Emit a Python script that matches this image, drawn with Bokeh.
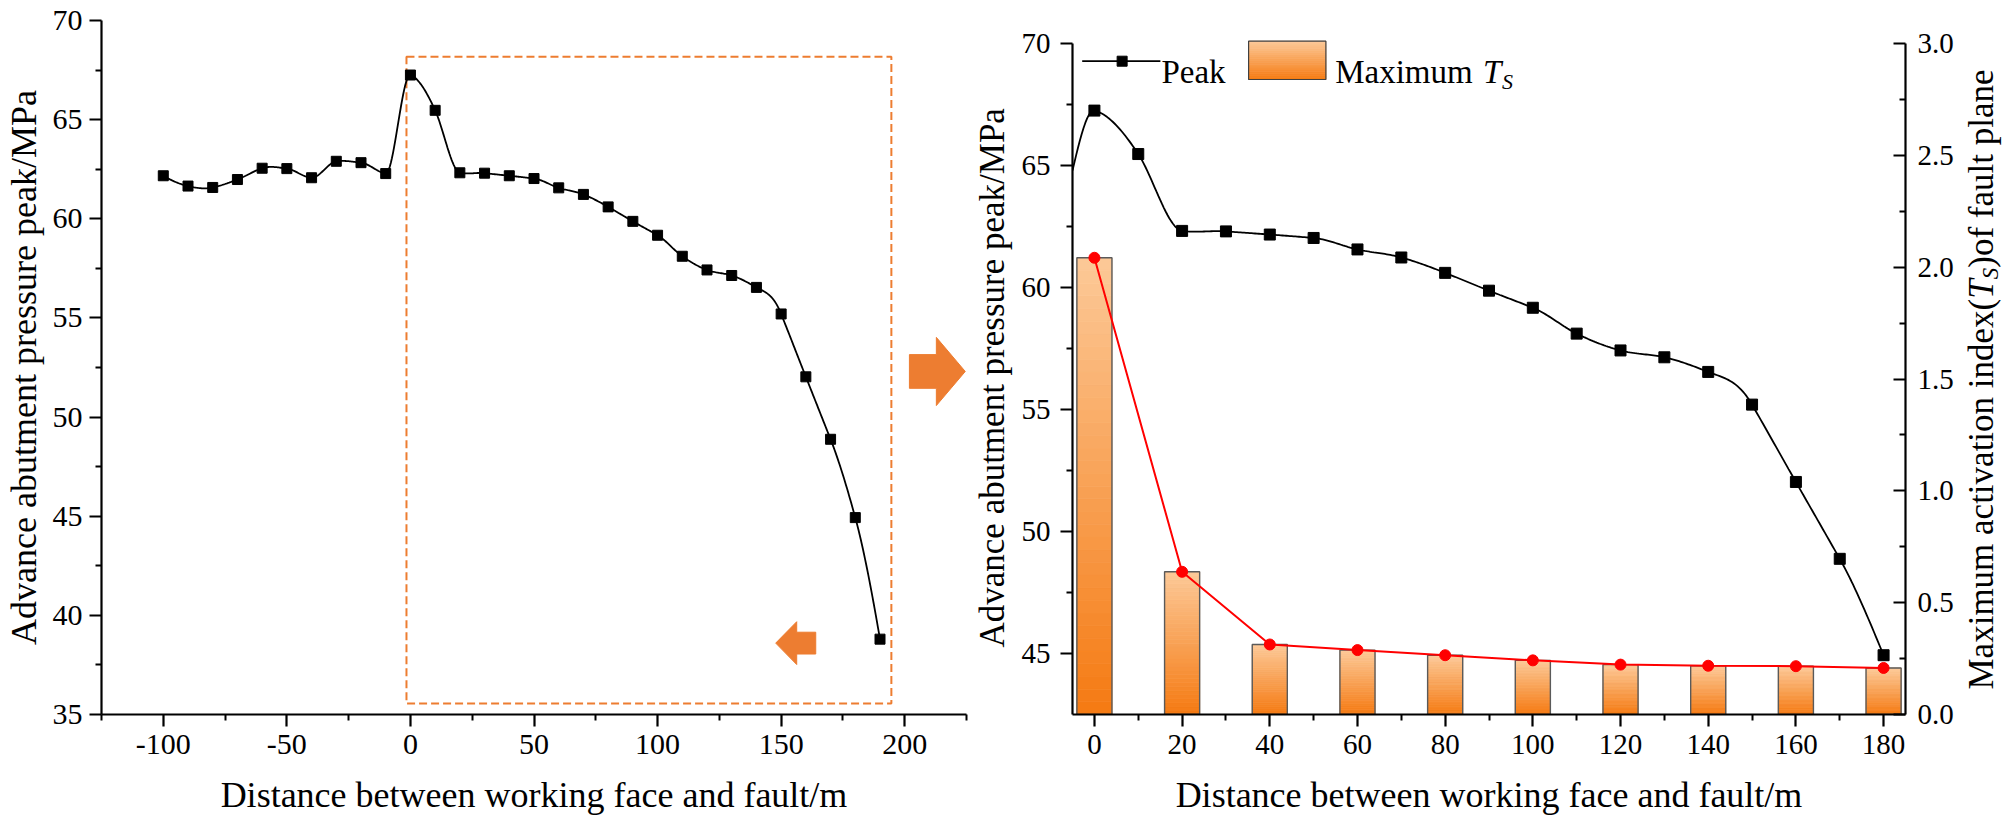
import numpy as np
from bokeh.plotting import figure
from bokeh.models import Range1d, LinearAxis, FixedTicker, Label
from bokeh.layouts import row
from bokeh.embed import file_html
from bokeh.resources import INLINE

FONT = "Liberation Serif"
ORANGE = "#ED7D31"

# ------------------------------------------------------------------ data
distance = [-100, -90, -80, -70, -60, -50, -40, -30, -20, -10,
            0, 10, 20, 30, 40, 50, 60, 70, 80, 90,
            100, 110, 120, 130, 140, 150, 160, 170, 180, 190]
peak = [62.17, 61.65, 61.58, 61.98, 62.55, 62.53, 62.07, 62.90, 62.83, 62.28,
        67.25, 65.47, 62.32, 62.30, 62.17, 62.03, 61.56, 61.23, 60.60, 59.87,
        59.17, 58.11, 57.42, 57.14, 56.54, 55.20, 52.03, 48.88, 44.93, 38.80]

ts_distance = [0, 20, 40, 60, 80, 100, 120, 140, 160, 180]
ts_max = [2.042, 0.638, 0.313, 0.288, 0.265, 0.242, 0.223, 0.218, 0.216, 0.208]

left_x_ticks = [-100, -50, 0, 50, 100, 150, 200]
left_x_minor = [-125, -75, -25, 25, 75, 125, 175, 225]
left_y_ticks = [35, 40, 45, 50, 55, 60, 65, 70]
left_y_minor = [37.5, 42.5, 47.5, 52.5, 57.5, 62.5, 67.5]
right_x_ticks = [0, 20, 40, 60, 80, 100, 120, 140, 160, 180]
right_x_minor = [10, 30, 50, 70, 90, 110, 130, 150, 170]
right_y_ticks = [45, 50, 55, 60, 65, 70]
right_y_minor = [47.5, 52.5, 57.5, 62.5, 67.5]
ts_ticks = [0.0, 0.5, 1.0, 1.5, 2.0, 2.5, 3.0]
ts_minor = [0.25, 0.75, 1.25, 1.75, 2.25, 2.75]
ts_tick_labels = ["0.0", "0.5", "1.0", "1.5", "2.0", "2.5", "3.0"]

x_title = "Distance between working face and fault/m"
y_title = "Advance abutment pressure peak/MPa"

# zoom box and arrows of the left panel, in data units
zoom_box = dict(left=-1.6, right=194.6, bottom=35.55, top=68.17)
arrow_right = dict(x0=201.9, x_neck=212.8, x_tip=224.5, y_mid=52.30, half_shaft=0.85, half_head=1.72)
arrow_left = dict(x0=164.0, x_neck=156.3, x_tip=147.8, y_mid=38.60, half_shaft=0.55, half_head=1.08)

BAR_WIDTH = 8
GRAD_TOP = (252, 201, 152)
GRAD_BOTTOM = (245, 122, 18)

# ------------------------------------------------------------------ layout (page pixels)
H = 828
TOP_B, BOT_B = 20, 114                # frame: y 20 .. 714
FR_TOP, FR_BOT = TOP_B, H - BOT_B
W1L, W1F, W1R = 98, 868, 4            # left figure, frame x 98 .. 966
W1 = W1L + W1F + W1R
WA = 46                               # strip holding the right panel's left title
W2L, W2F, W2R = 56, 834, 50           # right figure borders / frame
W3 = 52                               # strip holding the right panel's right title
R_AX_TOP = 43                         # y of the 70 / 3.0 ticks


# ------------------------------------------------------------------ helpers
def akima(xk, yk, samples=24):
    x = np.asarray(xk, float)
    y = np.asarray(yk, float)
    n = len(x)
    m = np.diff(y) / np.diff(x)
    mm = np.empty(n + 3)
    mm[2:n + 1] = m
    mm[1] = 2 * mm[2] - mm[3]
    mm[0] = 2 * mm[1] - mm[2]
    mm[n + 1] = 2 * mm[n] - mm[n - 1]
    mm[n + 2] = 2 * mm[n + 1] - mm[n]
    t = np.empty(n)
    for i in range(n):
        m1, m2, m3, m4 = mm[i], mm[i + 1], mm[i + 2], mm[i + 3]
        w1, w2 = abs(m4 - m3), abs(m2 - m1)
        t[i] = 0.5 * (m2 + m3) if w1 + w2 == 0 else (w1 * m2 + w2 * m3) / (w1 + w2)
    xs, ys = [], []
    for i in range(n - 1):
        h = x[i + 1] - x[i]
        u = np.linspace(0, 1, samples, endpoint=(i == n - 2))
        h00 = 2 * u ** 3 - 3 * u ** 2 + 1
        h10 = u ** 3 - 2 * u ** 2 + u
        h01 = -2 * u ** 3 + 3 * u ** 2
        h11 = u ** 3 - u ** 2
        xs.append(x[i] + u * h)
        ys.append(h00 * y[i] + h10 * h * t[i] + h01 * y[i + 1] + h11 * h * t[i + 1])
    return np.concatenate(xs), np.concatenate(ys)


def mix(frac):
    r = [int(round(GRAD_BOTTOM[j] + (GRAD_TOP[j] - GRAD_BOTTOM[j]) * frac)) for j in range(3)]
    return "#%02x%02x%02x" % tuple(r)


def gradient_quads(p, lefts, rights, bottoms, tops, n=36, **kw):
    L, R, B, T, C = [], [], [], [], []
    for l, r, b, t in zip(lefts, rights, bottoms, tops):
        edges = np.linspace(b, t, n + 1)
        for k in range(n):
            L.append(l); R.append(r)
            B.append(edges[k]); T.append(edges[k + 1])
            C.append(mix((k + 0.5) / n))
    p.quad(left=L, right=R, bottom=B, top=T, fill_color=C, line_color=C,
           line_width=0.8, **kw)


def block_arrow(p, a):
    ys = [a["y_mid"] - a["half_shaft"], a["y_mid"] - a["half_shaft"], a["y_mid"] - a["half_head"],
          a["y_mid"], a["y_mid"] + a["half_head"], a["y_mid"] + a["half_shaft"],
          a["y_mid"] + a["half_shaft"]]
    xs = [a["x0"], a["x_neck"], a["x_neck"], a["x_tip"], a["x_neck"], a["x_neck"], a["x0"]]
    p.patch(xs, ys, fill_color=ORANGE, line_color=ORANGE)


def style_axis(ax, size, major_out=12, minor_out=6, major_in=0, minor_in=0):
    ax.axis_line_width = 2.2
    ax.axis_line_color = "black"
    ax.major_tick_line_width = 2.2
    ax.minor_tick_line_width = 2
    ax.major_tick_line_color = "black"
    ax.minor_tick_line_color = "black"
    ax.major_tick_out = major_out
    ax.major_tick_in = major_in
    ax.minor_tick_out = minor_out
    ax.minor_tick_in = minor_in
    ax.major_label_text_font = FONT
    ax.major_label_text_font_size = size
    ax.major_label_text_color = "black"
    ax.axis_label_text_font = FONT
    ax.axis_label_text_font_style = "normal"
    ax.axis_label_text_color = "black"
    ax.axis_label_text_font_size = "36px"


def blank_strip(width, x0):
    s = figure(width=width, height=H, x_range=Range1d(x0, x0 + width),
               y_range=Range1d(FR_BOT, FR_TOP), x_axis_type=None, y_axis_type=None,
               output_backend="svg", toolbar_location=None,
               min_border_left=0, min_border_right=0, min_border_top=TOP_B,
               min_border_bottom=BOT_B)
    s.outline_line_color = None
    s.grid.visible = False
    return s


def rotated_label(p, x, y, text, size, style="normal"):
    p.add_layout(Label(x=x, y=y, text=text, angle=np.pi / 2, text_font=FONT,
                       text_font_size="%gpx" % size, text_font_style=style,
                       text_baseline="middle", text_align="left", text_color="black"))


# ------------------------------------------------------------------ left panel
p1 = figure(width=W1, height=H, x_range=Range1d(-125, 225), y_range=Range1d(35, 70),
            output_backend="svg", toolbar_location=None,
            min_border_left=W1L, min_border_right=W1R, min_border_top=TOP_B,
            min_border_bottom=BOT_B)
p1.outline_line_color = None
p1.grid.visible = False
p1.xaxis.ticker = FixedTicker(ticks=left_x_ticks, minor_ticks=left_x_minor)
p1.yaxis.ticker = FixedTicker(ticks=left_y_ticks, minor_ticks=left_y_minor)
style_axis(p1.xaxis[0], "30px")
style_axis(p1.yaxis[0], "30px")
p1.xaxis.major_label_overrides = {t: str(t) for t in left_x_ticks}
p1.xaxis.axis_label = x_title
p1.yaxis.axis_label = y_title
p1.xaxis.major_label_standoff = 8
p1.xaxis.axis_label_standoff = 18
p1.yaxis.major_label_standoff = 7
p1.yaxis.axis_label_standoff = 6

p1.quad(left=[zoom_box["left"]], right=[zoom_box["right"]], top=[zoom_box["top"]],
        bottom=[zoom_box["bottom"]], fill_color=None, line_color=ORANGE, line_width=2,
        line_dash="8 4")
block_arrow(p1, arrow_right)
block_arrow(p1, arrow_left)

sx, sy = akima(distance, peak)
p1.line(sx, sy, line_color="black", line_width=1.8)
p1.scatter(distance, peak, marker="square", size=10, fill_color="black", line_color="black")

# ------------------------------------------------------------------ strip with right panel's left title
A_X0 = W1
pA = blank_strip(WA, A_X0)
rotated_label(pA, 992, 647, y_title, 35)

# ------------------------------------------------------------------ right panel
R_FR_LEFT = A_X0 + WA + W2L
R_FR_RIGHT = R_FR_LEFT + W2F
px_per_unit = (FR_BOT - R_AX_TOP) / 27.5
y_top = 70 + (R_AX_TOP - FR_TOP) / px_per_unit
ts_top = 3 * (FR_BOT - FR_TOP) / (FR_BOT - R_AX_TOP)

p2 = figure(width=W2L + W2F + W2R, height=H, x_range=Range1d(-5, 185),
            y_range=Range1d(42.5, y_top), output_backend="svg", toolbar_location=None,
            min_border_left=W2L, min_border_right=W2R, min_border_top=TOP_B,
            min_border_bottom=BOT_B)
p2.outline_line_color = None
p2.grid.visible = False
p2.extra_y_ranges = {"ts": Range1d(0, ts_top)}
p2.xaxis.ticker = FixedTicker(ticks=right_x_ticks, minor_ticks=right_x_minor)
p2.yaxis.ticker = FixedTicker(ticks=right_y_ticks, minor_ticks=right_y_minor)
p2.yaxis.bounds = (42.5, 70)
style_axis(p2.xaxis[0], "29px")
style_axis(p2.yaxis[0], "29px")
p2.xaxis.axis_label = x_title
p2.xaxis.major_label_standoff = 8
p2.xaxis.axis_label_standoff = 18
p2.yaxis.major_label_standoff = 10

ax_r = LinearAxis(y_range_name="ts", ticker=FixedTicker(ticks=ts_ticks, minor_ticks=ts_minor),
                  bounds=(0, 3))
style_axis(ax_r, "29px", major_out=0, minor_out=0, major_in=12, minor_in=6)
ax_r.major_label_overrides = {t: s for t, s in zip(ts_ticks, ts_tick_labels)}
ax_r.major_label_standoff = 12
p2.add_layout(ax_r, "right")

# bars with vertical gradient
bl = [d - BAR_WIDTH / 2 for d in ts_distance]
br = [d + BAR_WIDTH / 2 for d in ts_distance]
gradient_quads(p2, bl, br, [0] * len(ts_max), ts_max, y_range_name="ts")
p2.quad(left=bl, right=br, bottom=0, top=ts_max, fill_color=None,
        line_color="#5a5a5a", line_width=1.4, y_range_name="ts")

# peak curve (spline through the data, clipped at the axis)
sx2, sy2 = akima(distance[:-1], peak[:-1])
keep = sx2 >= -5
p2.line(sx2[keep], sy2[keep], line_color="black", line_width=1.8)
mask = [i for i, d in enumerate(distance) if 0 <= d <= 180]
p2.scatter([distance[i] for i in mask], [peak[i] for i in mask], marker="square",
           size=11, fill_color="black", line_color="black")

# activation index line
p2.line(ts_distance, ts_max, line_color="#FF0000", line_width=2, y_range_name="ts")
p2.scatter(ts_distance, ts_max, marker="circle", size=11, fill_color="#FF0000",
           line_color="#FF0000", y_range_name="ts")


def rx(px):
    return -5 + (px - R_FR_LEFT) * 190 / W2F


def ry(py):
    return 70 - (py - R_AX_TOP) / px_per_unit


# legend
p2.line([rx(1081.7), rx(1160)], [ry(60.7), ry(60.7)], line_color="black", line_width=1.8)
p2.scatter([rx(1121.7)], [ry(60.7)], marker="square", size=10, fill_color="black", line_color="black")
p2.add_layout(Label(x=rx(1161), y=ry(71.7), text="Peak", text_font=FONT, text_font_size="33px",
                    text_baseline="alphabetic", text_align="left", text_color="black"))
gradient_quads(p2, [rx(1248.3)], [rx(1325.7)], [ry(79)], [ry(40.7)], n=20)
p2.quad(left=[rx(1248.3)], right=[rx(1325.7)], bottom=[ry(79)], top=[ry(40.7)],
        fill_color=None, line_color="#404040", line_width=1.2)
p2.add_layout(Label(x=rx(1335), y=ry(71.7), text="Maximum", text_font=FONT, text_font_size="33px",
                    text_baseline="alphabetic", text_align="left", text_color="black"))
p2.add_layout(Label(x=rx(1483), y=ry(71.7), text="T", text_font=FONT, text_font_size="33px",
                    text_font_style="italic", text_baseline="alphabetic", text_align="left",
                    text_color="black"))
p2.add_layout(Label(x=rx(1502), y=ry(81), text="S", text_font=FONT, text_font_size="22px",
                    text_font_style="italic", text_baseline="alphabetic", text_align="left",
                    text_color="black"))

# ------------------------------------------------------------------ strip with the right axis title
C_X0 = R_FR_RIGHT + W2R
p3 = blank_strip(W3, C_X0)
F = 35
pieces = [("Maximum activation index(", F, "normal", 1981, 11.166 * F),
          ("T", F, "italic", 1981, 0.556 * F),
          ("S", 23, "italic", 1990, 0.5 * 23),
          (")of fault plane", F, "normal", 1981, 5.665 * F)]
py = 689.0
for txt, fs, style, px, length in pieces:
    rotated_label(p3, px, py, txt, fs, style)
    py -= length

layout = row(p1, pA, p2, p3)
open("out.html", "w").write(file_html(layout, INLINE))
